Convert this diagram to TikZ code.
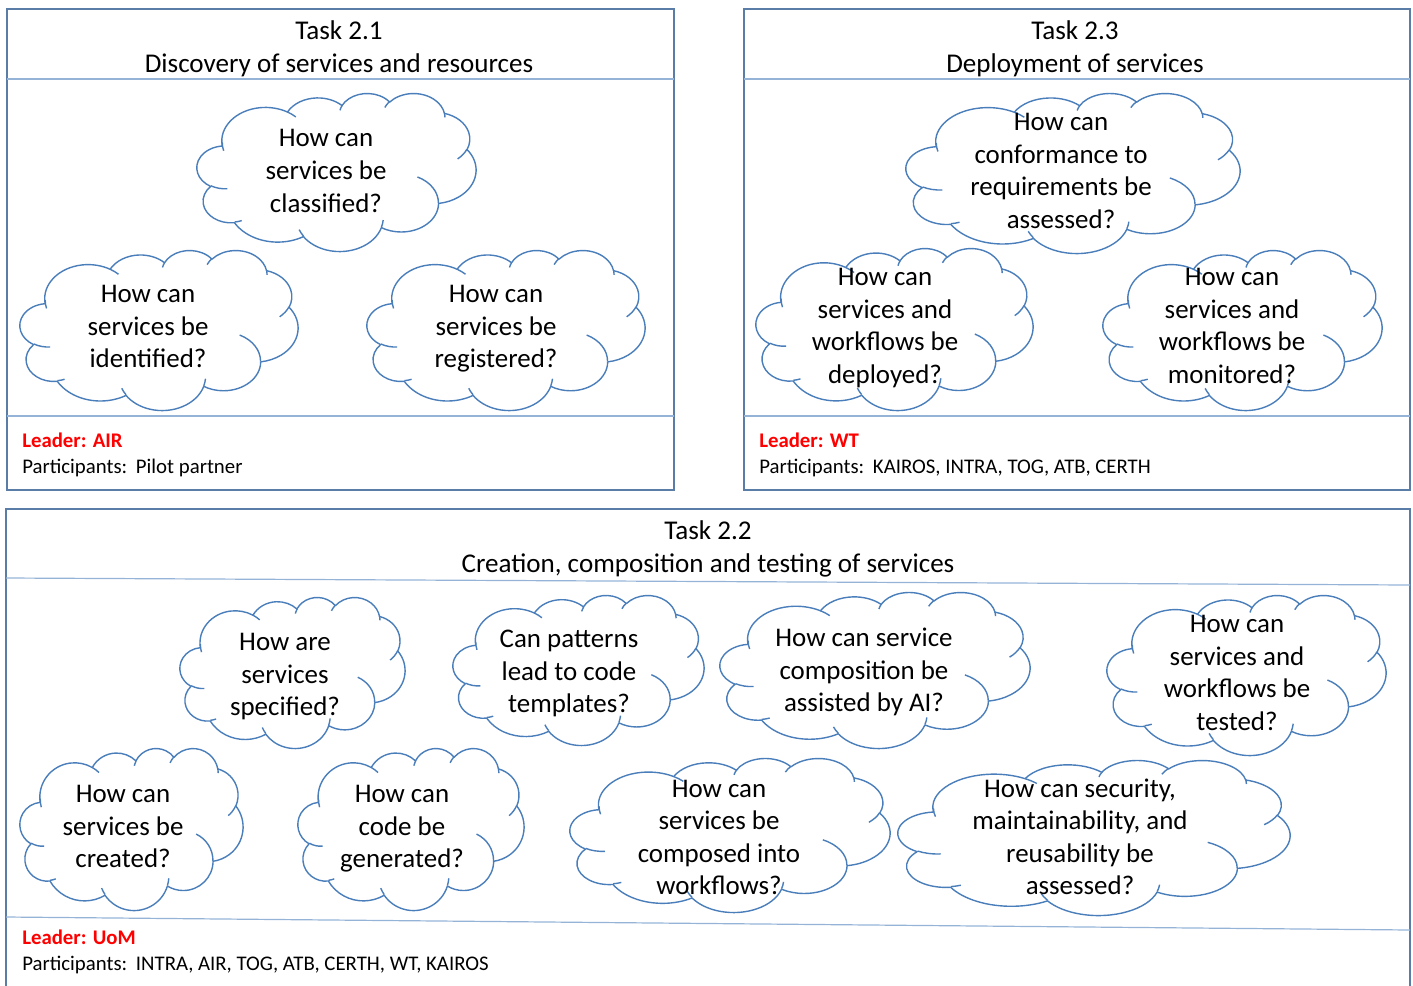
\documentclass[tikz,border=0pt]{standalone}
\usepackage{fontspec}
\setmainfont{Carlito}

\definecolor{boxline}{HTML}{5A7DA8}
\definecolor{sepline}{HTML}{95B3D7}
\definecolor{cloudline}{HTML}{4A7EBB}
\definecolor{leadred}{HTML}{FF0000}

\makeatletter
% Cloud geometry lives in a 43.2 x 43.2 shape space (y downwards);
% \cldx,\cldy,\cldw,\cldh hold the placement in pt.
\newcommand\cldpt[2]{%
  \pgfpoint{\cldx pt + #1/43.2*\cldw pt}{0pt - \cldy pt - #2/43.2*\cldh pt}}
% Elliptic arc from the current point: radii #1,#2, start angle #3,
% sweep #4 (visual angles, clockwise on screen).
\newcommand\cldarc[4]{%
  \pgfmathsetmacro\cld@a{atan2(#1*sin(#3),#2*cos(#3))}%
  \pgfmathsetmacro\cld@b{atan2(#1*sin(#3+#4),#2*cos(#3+#4))}%
  \pgfmathsetmacro\cld@b{\cld@b<\cld@a ? \cld@b+360 : \cld@b}%
  \pgfmathsetmacro\cld@sa{0-(\cld@a)}%
  \pgfmathsetmacro\cld@sb{0-(\cld@b)}%
  \pgfmathsetmacro\cld@rx{#1/43.2*\cldw}%
  \pgfmathsetmacro\cld@ry{#2/43.2*\cldh}%
  \pgfpatharc{\cld@sa}{\cld@sb}{\cld@rx pt and \cld@ry pt}%
}
% Cloud outline in the box with top-left corner (#1,#2) and size #3 x #4 (px)
\newcommand\drawcloud[4]{%
  \pgfmathsetmacro\cldx{0.75*#1}%
  \pgfmathsetmacro\cldy{0.75*#2}%
  \pgfmathsetmacro\cldw{0.75*#3}%
  \pgfmathsetmacro\cldh{0.75*#4}%
  \begin{pgfscope}%
    \pgfsetlinewidth{1.05pt}%
    \pgfsetstrokecolor{cloudline}%
    \pgfsetfillcolor{white}%
    \pgfsetroundjoin
    \pgfpathmoveto{\cldpt{3.900}{14.370}}%
    \cldarc{6.753}{9.190}{-190.4875}{123.7805}%
    \cldarc{5.333}{7.267}{-144.1024}{89.9452}%
    \cldarc{4.365}{5.945}{-145.8079}{99.7230}%
    \cldarc{4.857}{6.595}{-130.9861}{117.2417}%
    \cldarc{5.333}{7.273}{-78.7089}{109.0269}%
    \cldarc{6.775}{9.220}{-46.2673}{130.2690}%
    \cldarc{5.785}{7.867}{0.6250}{114.0333}%
    \cldarc{6.752}{9.215}{22.4516}{115.1726}%
    \cldarc{7.720}{10.543}{66.2426}{75.7110}%
    \cldarc{4.360}{5.918}{-274.9421}{146.7356}%
    \cldarc{4.345}{5.945}{-246.8285}{152.5189}%
    \pgfpathclose
    \pgfusepath{fill,stroke}%
    \pgfpathmoveto{\cldpt{4.693}{26.177}}\cldarc{4.345}{5.945}{86.7420}{26.4295}%
    \pgfpathmoveto{\cldpt{6.928}{34.899}}\cldarc{4.360}{5.918}{73.6105}{11.4475}%
    \pgfpathmoveto{\cldpt{16.478}{39.090}}\cldarc{6.752}{9.215}{137.6242}{14.0811}%
    \pgfpathmoveto{\cldpt{28.827}{34.751}}\cldarc{6.752}{9.215}{6.4533}{15.9984}%
    \pgfpathmoveto{\cldpt{34.129}{22.954}}\cldarc{5.785}{7.867}{-70.2924}{70.9174}%
    \pgfpathmoveto{\cldpt{41.798}{15.354}}\cldarc{5.333}{7.273}{30.3180}{27.7515}%
    \pgfpathmoveto{\cldpt{38.324}{5.426}}\cldarc{4.857}{6.595}{-13.7443}{14.8589}%
    \pgfpathmoveto{\cldpt{29.078}{3.952}}\cldarc{4.857}{6.595}{-149.1815}{18.1954}%
    \pgfpathmoveto{\cldpt{22.141}{4.720}}\cldarc{4.365}{5.945}{-163.4943}{17.6864}%
    \pgfpathmoveto{\cldpt{14.000}{5.192}}\cldarc{6.753}{9.190}{-66.7070}{12.3194}%
    \pgfpathmoveto{\cldpt{4.127}{15.789}}\cldarc{6.753}{9.190}{160.4553}{19.4267}%
    \pgfusepath{stroke}%
  \end{pgfscope}%
}
\makeatother

% Question cloud: name, box x, y, w, h, text centre x, y, text
\newcommand\qcloud[8]{%
  \drawcloud{#2}{#3}{#4}{#5}%
  \node[cloudtext] (#1) at (#6,#7+3) {\strut #8\strut};%
}

\begin{document}
\begin{tikzpicture}[
  x=0.75pt, y=-0.75pt,
  frame/.style={draw=boxline, line width=1.5pt},
  divider/.style={draw=sepline, line width=0.9pt},
  cloudtext/.style={align=center, inner sep=0pt, font=\fontsize{20.2}{24.4}\selectfont},
  titletext/.style={align=center, inner sep=0pt, font=\fontsize{20.3}{24.75}\selectfont},
  infotext/.style={align=left, anchor=west, inner sep=0pt, font=\fontsize{15.6}{19.5}\selectfont}
]
\useasboundingbox (0,0) rectangle (1413,985);
\clip (0,0) rectangle (1413,985);

% ---------------- Task 2.1 ----------------
\draw[frame] (7,9) rectangle (674,490);
\draw[divider] (7,79) -- (674,79);
\draw[divider] (7,416) -- (674,416);
\node[titletext] (t21) at (339,49.5) {\strut Task 2.1\\Discovery of services and resources\strut};
\qcloud{q211}{197}{93}{279}{158}{326}{170}{How can\\services be\\classified?}
\qcloud{q212}{20}{250}{278}{160}{148}{325.5}{How can\\services be\\identified?}
\qcloud{q213}{367}{250}{278}{160}{496}{325.5}{How can\\services be\\registered?}
\node[infotext] (l21) at (22,455) {\strut\textcolor{leadred}{\bfseries Leader: AIR}\\Participants:\hspace{0.42em}Pilot partner\strut};

% ---------------- Task 2.3 ----------------
\draw[frame] (744,9) rectangle (1410,490);
\draw[divider] (744,79) -- (1410,79);
\draw[divider] (744,416) -- (1410,416);
\node[titletext] (t23) at (1075,49.5) {\strut Task 2.3\\Deployment of services\strut};
\qcloud{q231}{906}{93}{334}{160}{1061}{170}{How can\\conformance to\\requirements be\\assessed?}
\qcloud{q232}{756}{248}{277}{162}{885}{325}{How can\\services and\\workflows be\\deployed?}
\qcloud{q233}{1103}{250}{279}{160}{1232}{325}{How can\\services and\\workflows be\\monitored?}
\node[infotext] (l23) at (759,455) {\strut\textcolor{leadred}{\bfseries Leader: WT}\\Participants:\hspace{0.42em}KAIROS, INTRA, TOG, ATB, CERTH\strut};

% ---------------- Task 2.2 ----------------
\draw[frame] (6,995) -- (6,509) -- (1410,509) -- (1410,995);
\draw[divider] (6,578) -- (1410,585);
\draw[divider] (6,917) -- (1410,930);
\node[titletext] (t22) at (708,549.5) {\strut Task 2.2\\Creation, composition and testing of services\strut};
\qcloud{q221}{180}{597}{225}{151}{285}{673.5}{How are\\services\\specified?}
\qcloud{q222}{453}{595}{251}{150}{569}{670.5}{Can patterns\\lead to code\\templates?}
\qcloud{q223}{720}{592}{310}{156}{864}{669.5}{How can service\\composition be\\assisted by AI?}
\qcloud{q224}{1107}{595}{279}{160}{1237}{672}{How can\\services and\\workflows be\\tested?}
\qcloud{q225}{20}{748}{223}{162}{123}{825.5}{How can\\services be\\created?}
\qcloud{q226}{298}{748}{226}{162}{402}{825.5}{How can\\code be\\generated?}
\qcloud{q227}{570}{758}{320}{154}{719}{836.5}{How can\\services be\\composed into\\workflows?}
\qcloud{q228}{898}{760}{392}{155}{1080}{836.5}{How can security,\\maintainability, and\\reusability be\\assessed?}
\node[infotext] (l22) at (22,952) {\strut\textcolor{leadred}{\bfseries Leader: UoM}\\Participants:\hspace{0.42em}INTRA, AIR, TOG, ATB, CERTH, WT, KAIROS\strut};
\end{tikzpicture}
\end{document}
